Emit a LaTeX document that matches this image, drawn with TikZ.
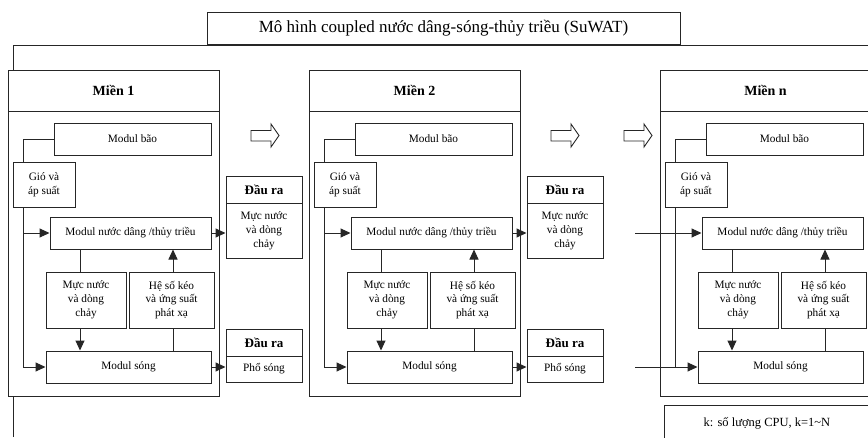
\documentclass[tikz,border=0pt]{standalone}
\usepackage{fontspec}
\setmainfont{Liberation Serif}
\usetikzlibrary{arrows.meta}
\colorlet{sulines}{black!85}
\tikzset{
  subox/.style={draw=sulines,fill=white,line width=1pt,align=center,inner sep=1pt,
                font=\fontsize{11.3}{13.8}\selectfont},
  suhead/.style={subox,font=\fontsize{14}{16}\selectfont\bfseries},
  suout/.style={subox,font=\fontsize{13}{15}\selectfont\bfseries},
  suline/.style={line width=1pt,draw=sulines},
  suflow/.style={-{Triangle[length=10pt,width=9pt]},line width=1pt,draw=sulines},
  sunext/.style={line width=0.9pt,draw=sulines}
}

\begin{document}
\begin{tikzpicture}[x=1pt,y=-1pt]
  \useasboundingbox (0,0) rectangle (868,437);
  \clip (0,0) rectangle (868,437);

  % title and outer frame
  \node[subox,font=\fontsize{17}{19}\selectfont,minimum width=473pt,minimum height=32pt]
    (title) at (443.5,28) {Mô hình coupled nước dâng-sóng-thủy triều (SuWAT)};
  \draw[suline] (13,437) -- (13,45) -- (868,45);

  % one block per domain
  \foreach \dom/\off in {1/0,2/301,n/652}{
    \begin{scope}[xshift=\off pt]
      \node[subox,minimum width=211pt,minimum height=285pt] (body\dom) at (113.5,253.5) {};
      \node[suhead,minimum width=211pt,minimum height=41pt] (head\dom) at (113.5,90.5) {Miền \dom};
      \node[subox,minimum width=157pt,minimum height=32pt] (bao\dom) at (132.5,139) {Modul bão};
      \node[subox,minimum width=62pt,minimum height=45pt] (gio\dom) at (44,184.5) {Gió và\\áp suất};
      \node[subox,minimum width=161pt,minimum height=32pt] (nd\dom) at (130.5,233) {Modul nước dâng /thủy triều};
      \node[subox,minimum width=80pt,minimum height=56pt] (muc\dom) at (86,300) {Mực nước\\và dòng\\chảy};
      \node[subox,minimum width=85pt,minimum height=56pt] (heso\dom) at (171.5,300) {Hệ số kéo\\và ứng suất\\phát xạ};
      \node[subox,minimum width=165pt,minimum height=32pt] (song\dom) at (128.5,367) {Modul sóng};
      \coordinate (bus\dom) at (23,0);
      \coordinate (dn\dom) at (80,0);
      \coordinate (up\dom) at (173,0);
    \end{scope}
    \draw[suline] (bao\dom.west) -- (bao\dom.west -| bus\dom) -- (gio\dom.north -| bus\dom);
    \draw[suline] (gio\dom.south -| bus\dom) -- (song\dom.west -| bus\dom);
    \draw[suline] (nd\dom.south -| dn\dom) -- (muc\dom.north -| dn\dom);
    \draw[suflow] (muc\dom.south -| dn\dom) -- (song\dom.north -| dn\dom);
    \draw[suline] (song\dom.north -| up\dom) -- (heso\dom.south -| up\dom);
    \draw[suflow] (heso\dom.north -| up\dom) -- (nd\dom.south -| up\dom);
  }

  % outputs of domains 1 and 2
  \foreach \dom/\off in {1/0,2/301}{
    \begin{scope}[xshift=\off pt]
      \node[suout,minimum width=76pt,minimum height=27pt] (outa\dom) at (264,189.5) {Đầu ra};
      \node[subox,minimum width=76pt,minimum height=55pt] (resa\dom) at (264,230.5) {Mực nước\\và dòng\\chảy};
      \node[suout,minimum width=76pt,minimum height=27pt] (outb\dom) at (264,342.5) {Đầu ra};
      \node[subox,minimum width=76pt,minimum height=26pt] (resb\dom) at (264,369) {Phổ sóng};
    \end{scope}
    \draw[suflow] (nd\dom.west -| bus\dom) -- (nd\dom.west);
    \draw[suflow] (song\dom.west -| bus\dom) -- (song\dom.west);
    \draw[suflow] (nd\dom.east) -- (nd\dom.east -| resa\dom.west);
    \draw[suflow] (song\dom.east) -- (song\dom.east -| resb\dom.west);
  }

  % inputs of domain n
  \coordinate (ext) at (635,0);
  \draw[suflow] (ndn.west -| ext) -- (ndn.west);
  \draw[suflow] (songn.west -| ext) -- (songn.west);

  % hollow arrows between domains
  \foreach \ax in {251,551,624}{
    \draw[sunext] (\ax,130.5) -- (\ax+20,130.5) -- (\ax+20,124) -- (\ax+28,135.5)
      -- (\ax+20,147) -- (\ax+20,141) -- (\ax,141) -- cycle;
  }

  % processor note
  \node[subox,font=\fontsize{12.5}{14}\selectfont,minimum width=206pt,minimum height=36pt]
    (cpu) at (767,423) {k: số lượng CPU, k=1\textasciitilde N};
\end{tikzpicture}
\end{document}
